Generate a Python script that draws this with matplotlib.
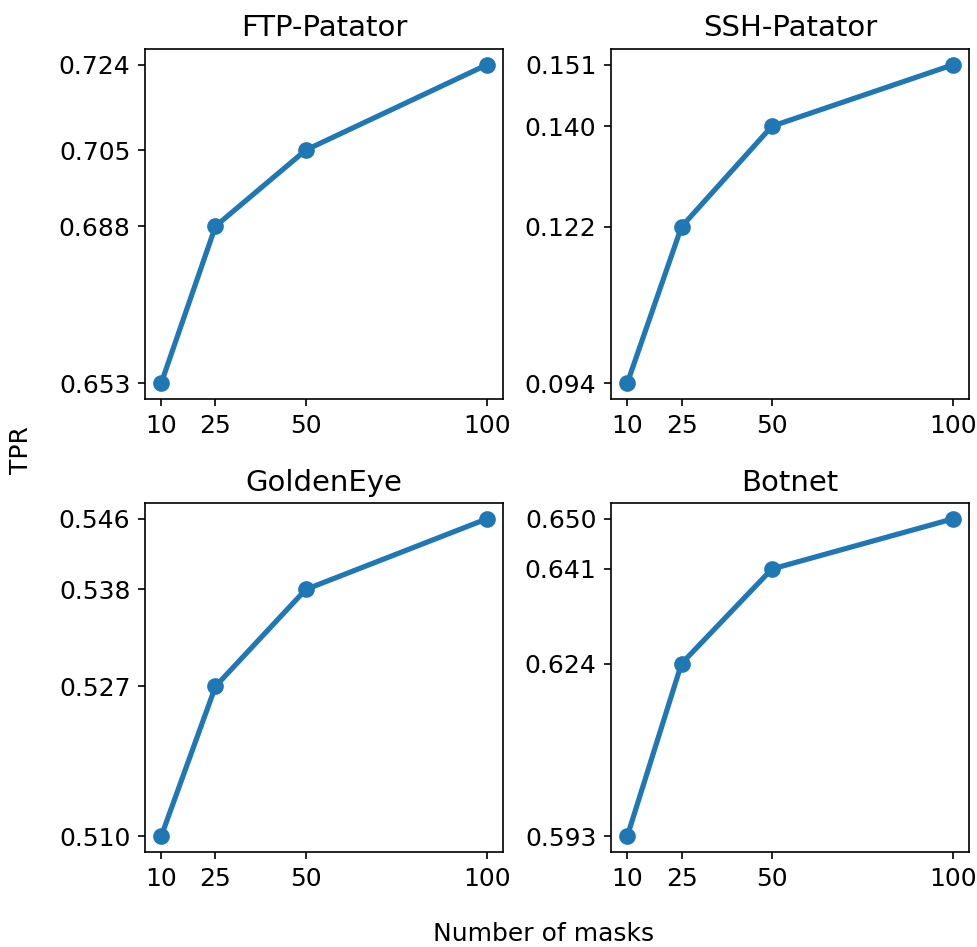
import matplotlib
matplotlib.use("Agg")
import matplotlib.pyplot as plt

masks = [10, 25, 50, 100]
titles = ["FTP-Patator", "SSH-Patator", "GoldenEye", "Botnet"]
ftp = [0.653, 0.688, 0.705, 0.724]
ssh = [0.094, 0.122, 0.140, 0.151]
golden = [0.510, 0.527, 0.538, 0.546]
botnet = [0.593, 0.624, 0.641, 0.650]
series = [ftp, ssh, golden, botnet]

fig = plt.figure(figsize=(977/150, 947/150), dpi=150)
positions = [
    (0.1484, 0.5787, 0.3664, 0.3696),
    (0.6254, 0.5787, 0.3664, 0.3696),
    (0.1484, 0.1003, 0.3664, 0.3685),
    (0.6254, 0.1003, 0.3664, 0.3685),
]
for pos, title, vals in zip(positions, titles, series):
    ax = fig.add_axes(pos)
    ax.plot(masks, vals, marker='o', color='#1f77b4', linewidth=2.5, markersize=7)
    ax.set_title(title, fontsize=14)
    ax.set_xticks(masks)
    ax.set_xticklabels([str(m) for m in masks])
    ax.set_yticks(vals)
    ax.set_yticklabels([f"{v:.3f}" for v in vals])
    ax.tick_params(labelsize=12)

fig.text(0.556, 0.0137, "Number of masks", ha='center', va='center', fontsize=12)
fig.text(0.022, 0.525, "TPR", ha='center', va='center', rotation=90, fontsize=12)

fig.savefig("out.png", dpi=150)
